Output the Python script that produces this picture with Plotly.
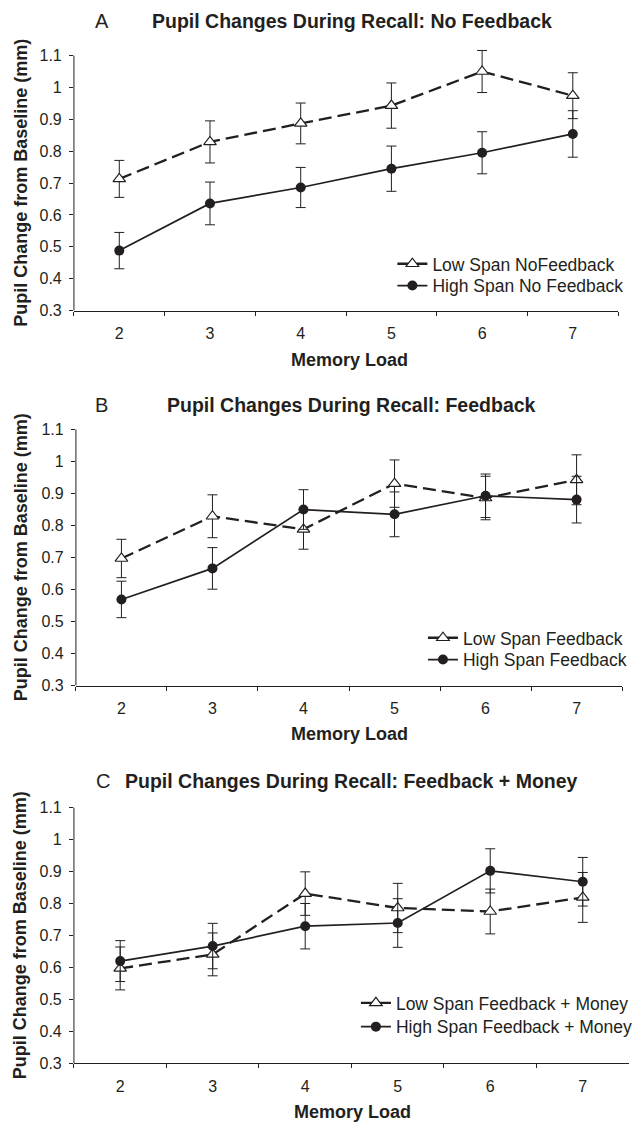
import plotly.graph_objects as go

# ---------------- data ----------------
loads = ["2", "3", "4", "5", "6", "7"]
y_tick_vals = [0.3, 0.4, 0.5, 0.6, 0.7, 0.8, 0.9, 1.0, 1.1]
y_tick_text = ["0.3", "0.4", "0.5", "0.6", "0.7", "0.8", "0.9", "1", "1.1"]

a_low = [0.713, 0.829, 0.887, 0.943, 1.050, 0.974]
a_low_err = [0.058, 0.066, 0.064, 0.071, 0.066, 0.072]
a_high = [0.488, 0.636, 0.686, 0.745, 0.795, 0.854]
a_high_err = [0.057, 0.067, 0.063, 0.071, 0.066, 0.073]

b_low = [0.697, 0.829, 0.788, 0.931, 0.886, 0.943]
b_low_err = [0.060, 0.067, 0.062, 0.074, 0.068, 0.078]
b_high = [0.569, 0.666, 0.850, 0.835, 0.893, 0.881]
b_high_err = [0.057, 0.065, 0.062, 0.070, 0.068, 0.073]

c_low = [0.597, 0.641, 0.831, 0.786, 0.775, 0.819]
c_low_err = [0.067, 0.067, 0.068, 0.077, 0.070, 0.078]
c_high = [0.620, 0.667, 0.729, 0.739, 0.902, 0.868]
c_high_err = [0.064, 0.071, 0.071, 0.076, 0.069, 0.076]

panel_letters = ["A", "B", "C"]
panel_titles = [
    "Pupil Changes During Recall: No Feedback",
    "Pupil Changes During Recall: Feedback",
    "Pupil Changes During Recall: Feedback + Money",
]
low_names = ["Low Span NoFeedback", "Low Span Feedback", "Low Span Feedback + Money"]
high_names = ["High Span No Feedback", "High Span Feedback", "High Span Feedback + Money"]
x_title = "Memory Load"
y_title = "Pupil Change from Baseline (mm)"

lows = [a_low, b_low, c_low]
low_errs = [a_low_err, b_low_err, c_low_err]
highs = [a_high, b_high, c_high]
high_errs = [a_high_err, b_high_err, c_high_err]

# ---------------- layout geometry (pixels) ----------------
W, H = 638, 1131
ink = "#231f20"
font_family = "Arial, Liberation Sans, sans-serif"

# plot areas: (left, right, top of the 1.1 tick, bottom) in px
areas = [
    (75, 627, 56, 313),
    (77, 631, 433, 691),
    (75, 638, 814, 1072),
]
EXT = 30  # extra headroom (px) above the 1.1 tick so error bars are not clipped
title_y = [21, 408, 787]
title_x = [357, 357, 357]
letter_x = [103, 103, 104]
xtitle_x = [355, 355, 358]
xtitle_y = [363, 740, 1121]
legend_x = [398, 429, 361]
legend_rows = [(266, 288), (643, 665), (1011, 1035)]


def px_x(v):
    return v / W


def px_y(v):
    return 1 - v / H


fig = go.Figure()
annotations = []
shapes = []
layout = {}
y_lo, y_hi = min(y_tick_vals), max(y_tick_vals)

for i in range(3):
    k = i + 1
    sfx = "" if i == 0 else str(k)
    xa, ya = "x" + sfx, "y" + sfx
    l, r, t, b = areas[i]
    top_val = y_hi + EXT * (y_hi - y_lo) / (b - t)

    leg_low = "legend" + ("" if i == 0 else str(2 * i + 1))
    leg_high = "legend" + str(2 * i + 2)

    fig.add_trace(go.Scatter(
        x=loads, y=lows[i], xaxis=xa, yaxis=ya, name=low_names[i], legend=leg_low,
        mode="lines+markers",
        line=dict(color=ink, width=2.3, dash="13px,6px"),
        marker=dict(symbol="triangle-up", size=11, color="white", line=dict(color=ink, width=1.2)),
        error_y=dict(type="data", array=low_errs[i], visible=True, color=ink, thickness=1, width=5),
        cliponaxis=False,
    ))
    fig.add_trace(go.Scatter(
        x=loads, y=highs[i], xaxis=xa, yaxis=ya, name=high_names[i], legend=leg_high,
        mode="lines+markers",
        line=dict(color=ink, width=1.7),
        marker=dict(symbol="circle", size=10, color=ink),
        error_y=dict(type="data", array=high_errs[i], visible=True, color=ink, thickness=1, width=5),
        cliponaxis=False,
    ))

    layout["xaxis" + sfx] = dict(
        domain=[px_x(l), min(1, px_x(r))], anchor=ya, type="category", range=[-0.5, 5.5],
        tickson="boundaries", ticks="outside", ticklen=4, tickcolor=ink,
        showline=True, linecolor=ink, linewidth=1, showgrid=False, zeroline=False,
        tickfont=dict(family=font_family, size=16, color=ink), fixedrange=True,
        ticklabelstandoff=8,
    )
    layout["yaxis" + sfx] = dict(
        domain=[px_y(b), px_y(t - EXT)], anchor=xa, range=[y_lo, top_val],
        tickvals=y_tick_vals, ticktext=y_tick_text,
        ticks="outside", ticklen=4, tickcolor=ink,
        showline=False, showgrid=False, zeroline=False,
        tickfont=dict(family=font_family, size=16, color=ink), fixedrange=True,
        ticklabelstandoff=4,
    )
    # y spine drawn only between the first and last tick (the axis area has headroom above)
    shapes.append(dict(
        type="line", xref=xa + " domain", yref=ya, x0=0, x1=0, y0=y_lo, y1=y_hi,
        line=dict(color=ink, width=1), layer="above",
    ))
    for leg, row in ((leg_low, legend_rows[i][0]), (leg_high, legend_rows[i][1])):
        layout[leg] = dict(
            x=px_x(legend_x[i]), y=px_y(row), xanchor="left", yanchor="middle",
            bgcolor="rgba(0,0,0,0)", borderwidth=0,
            font=dict(family=font_family, size=17.5, color=ink),
        )

    annotations.append(dict(
        x=px_x(title_x[i]), y=px_y(title_y[i]), xref="paper", yref="paper",
        text="<b>" + panel_titles[i] + "</b>", showarrow=False,
        font=dict(family=font_family, size=19.5, color=ink), xanchor="center", yanchor="middle",
    ))
    annotations.append(dict(
        x=px_x(letter_x[i]), y=px_y(title_y[i]), xref="paper", yref="paper",
        text=panel_letters[i], showarrow=False,
        font=dict(family=font_family, size=20, color=ink), xanchor="center", yanchor="middle",
    ))
    annotations.append(dict(
        x=px_x(xtitle_x[i]), y=px_y(xtitle_y[i]), xref="paper", yref="paper",
        text="<b>" + x_title + "</b>", showarrow=False,
        font=dict(family=font_family, size=18, color=ink), xanchor="center", yanchor="middle",
    ))
    annotations.append(dict(
        x=px_x(21), y=px_y((t + b) / 2), xref="paper", yref="paper",
        text="<b>" + y_title + "</b>", showarrow=False, textangle=-90,
        font=dict(family=font_family, size=18, color=ink), xanchor="center", yanchor="middle",
    ))

fig.update_layout(
    width=W, height=H, margin=dict(l=0, r=0, t=0, b=0),
    paper_bgcolor="white", plot_bgcolor="white",
    showlegend=True, annotations=annotations, shapes=shapes, **layout,
)

fig.write_html(
    "out.html",
    config={"displayModeBar": False},
    post_script="document.body.style.margin='0';document.body.style.overflow='hidden';",
)
